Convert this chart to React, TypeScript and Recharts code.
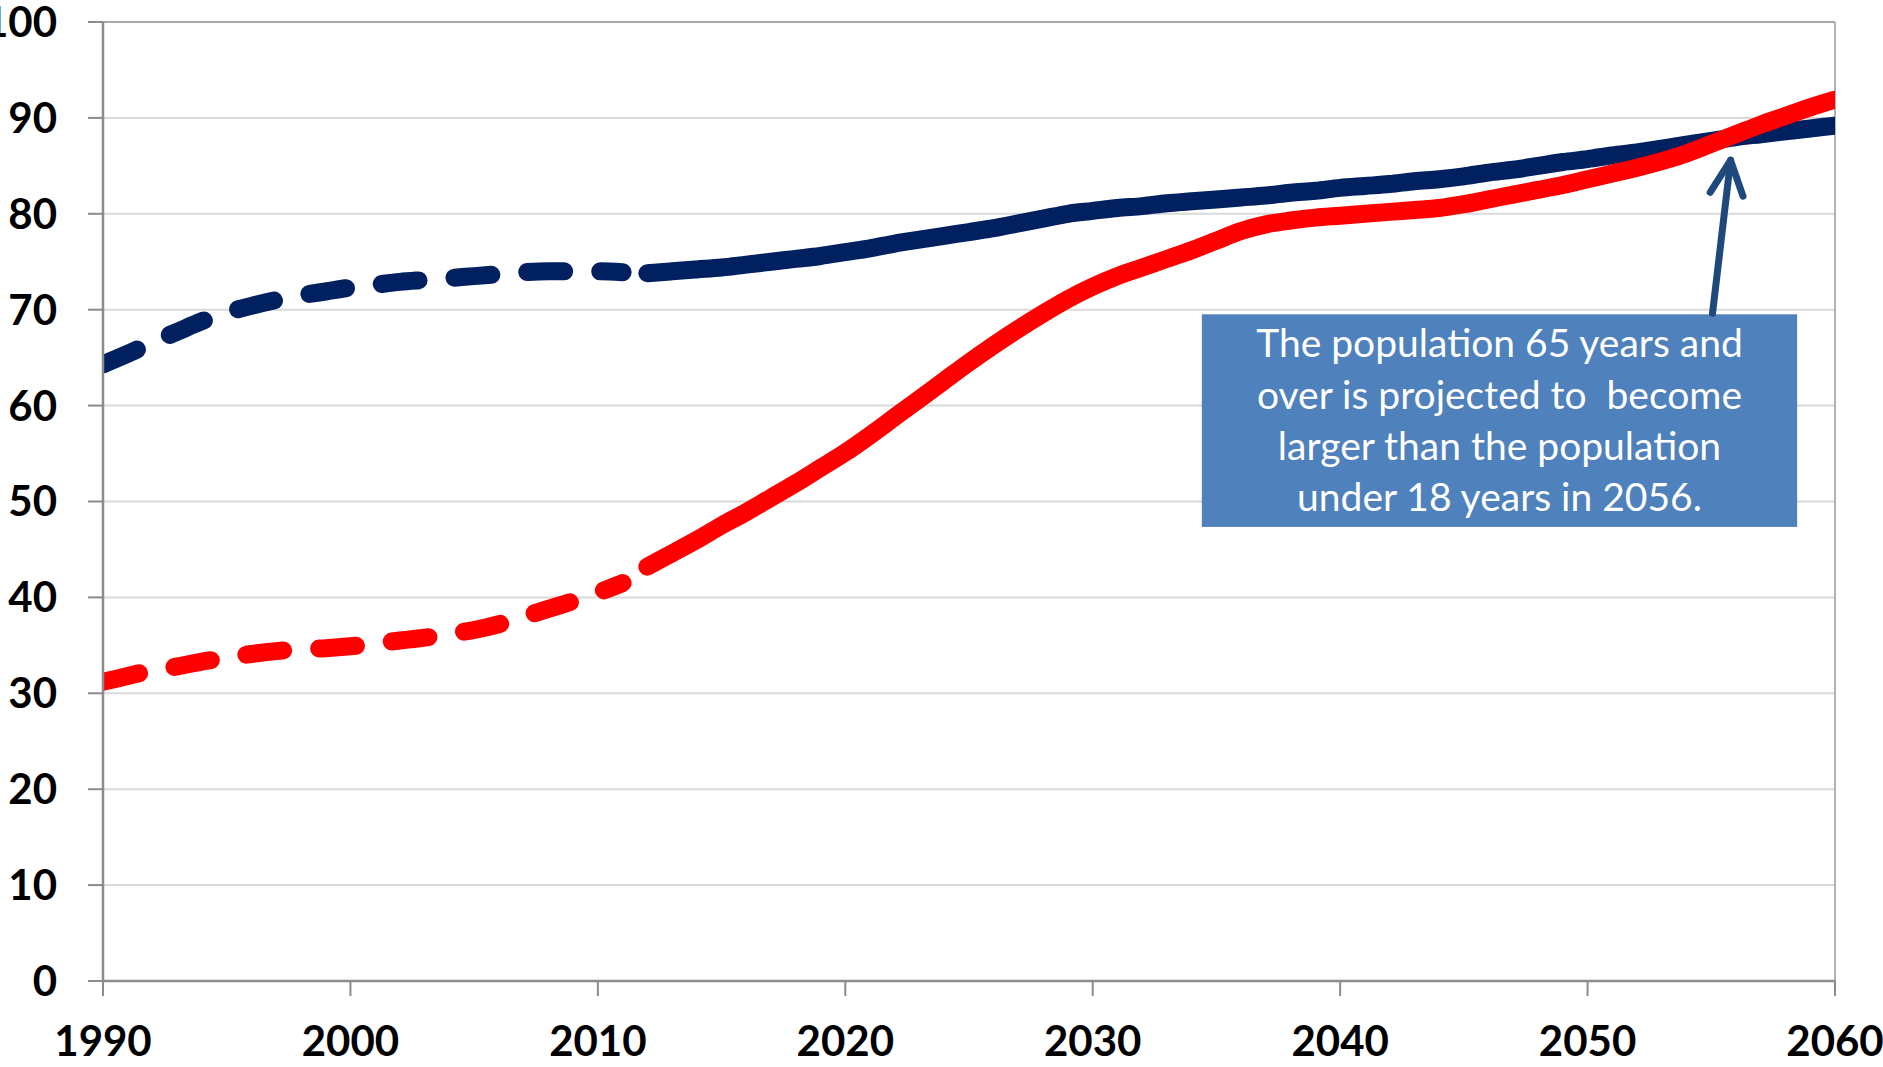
import { LineChart, Line, XAxis, YAxis, CartesianGrid, ReferenceLine, ReferenceArea } from 'recharts';

// population in millions, estimates (1990-2011) and projections (2012-2060)
const histYears = Array.from({ length: 22 }, (_, i) => 1990 + i);
const projYears = Array.from({ length: 49 }, (_, i) => 2012 + i);

const under18Hist = [
  64.3, 65.4, 66.6, 67.7, 68.8, 69.7, 70.4, 71.0, 71.5, 71.9, 72.3,
  72.6, 72.9, 73.1, 73.3, 73.5, 73.7, 73.9, 74.0, 74.0, 74.0, 73.9,
];
const over65Hist = [
  31.2, 31.8, 32.4, 32.8, 33.3, 33.7, 34.1, 34.4, 34.6, 34.7, 34.9,
  35.2, 35.5, 35.8, 36.2, 36.6, 37.2, 38.0, 38.8, 39.6, 40.5, 41.5,
];
const under18Proj = [
  73.8, 74.0, 74.2, 74.4, 74.7, 75.0, 75.3, 75.6, 76.0, 76.4,
  76.9, 77.3, 77.7, 78.1, 78.5, 79.0, 79.5, 80.0, 80.3, 80.6,
  80.8, 81.1, 81.3, 81.5, 81.7, 81.9, 82.2, 82.4, 82.7, 82.9,
  83.1, 83.4, 83.6, 83.9, 84.3, 84.6, 85.0, 85.4, 85.7, 86.1,
  86.4, 86.8, 87.2, 87.6, 88.0, 88.3, 88.6, 88.9, 89.2,
];
const over65Proj = [
  43.2, 44.6, 46.0, 47.5, 48.9, 50.4, 51.9, 53.5, 55.1, 56.9,
  58.8, 60.7, 62.6, 64.5, 66.3, 68.0, 69.6, 71.1, 72.4, 73.5,
  74.4, 75.3, 76.2, 77.2, 78.2, 78.9, 79.3, 79.6, 79.8, 80.0,
  80.2, 80.4, 80.6, 81.0, 81.5, 82.0, 82.5, 83.0, 83.6, 84.2,
  84.8, 85.5, 86.3, 87.3, 88.3, 89.3, 90.2, 91.1, 91.9,
];

const xTicks = [1990, 2000, 2010, 2020, 2030, 2040, 2050, 2060];
const yTicks = [0, 10, 20, 30, 40, 50, 60, 70, 80, 90, 100];

const calloutLines = [
  'The population 65 years and',
  'over is projected to  become',
  'larger than the population',
  'under 18 years in 2056.',
];

const data: any[] = [];
histYears.forEach((year, i) => {
  data.push({ year, under18Hist: under18Hist[i], over65Hist: over65Hist[i] });
});
projYears.forEach((year, i) => {
  data.push({ year, under18Proj: under18Proj[i], over65Proj: over65Proj[i] });
});

const FONT = 'Lato, Carlito, Calibri, sans-serif';
const NAVY = '#002060';
const RED = '#FF0000';
const DASH = '37 36';

const Callout = (props: any) => {
  const { x, y, width, height } = props;
  const cx = x + width / 2;
  return (
    <g>
      <rect x={x} y={y} width={width} height={height} fill="#4F81BD" />
      <text textAnchor="middle" fill="#ffffff" fontSize={39} fontFamily={FONT} style={{ whiteSpace: 'pre' }}>
        {calloutLines.map((t, i) => (
          <tspan key={i} x={cx} y={y + 43 + i * 51.2}>
            {t}
          </tspan>
        ))}
      </text>
    </g>
  );
};

const Arrow = (props: any) => {
  const { x1, y1, x2, y2 } = props;
  const back = Math.atan2(y1 - y2, x1 - x2);
  const len = 38;
  const spread = 0.45;
  const ax = x2 + len * Math.cos(back + spread);
  const ay = y2 + len * Math.sin(back + spread);
  const bx = x2 + len * Math.cos(back - spread);
  const by = y2 + len * Math.sin(back - spread);
  return (
    <g stroke="#1F497D" strokeWidth={7} strokeLinecap="round" strokeLinejoin="round" fill="none">
      <line x1={x1} y1={y1} x2={x2} y2={y2} />
      <polyline points={`${ax},${ay} ${x2},${y2} ${bx},${by}`} />
    </g>
  );
};

const App = () => {
  const tickStyle = { fill: '#000', fontSize: 42, fontWeight: 700, fontFamily: FONT };
  return (
    <div style={{ position: 'absolute', left: 0, top: 0, width: 1883, height: 1067, background: '#fff' }}>
      <LineChart width={1883} height={1067} data={data} margin={{ top: 22, right: 48, left: 3, bottom: 6 }}>
        <CartesianGrid vertical={false} stroke="#d9d9d9" strokeWidth={2} />
        <XAxis
          dataKey="year"
          type="number"
          domain={[1990, 2060]}
          ticks={xTicks}
          interval={0}
          allowDataOverflow
          height={80}
          tickSize={15}
          tickMargin={30}
          tick={tickStyle}
          axisLine={{ stroke: '#8c8c8c', strokeWidth: 2.5 }}
          tickLine={{ stroke: '#8c8c8c', strokeWidth: 2 }}
        />
        <YAxis
          type="number"
          domain={[0, 100]}
          ticks={yTicks}
          interval={0}
          width={100}
          tickSize={15}
          tickMargin={31}
          tick={tickStyle}
          axisLine={{ stroke: '#8c8c8c', strokeWidth: 2.5 }}
          tickLine={{ stroke: '#8c8c8c', strokeWidth: 2 }}
        />
        <ReferenceLine y={100} stroke="#a6a6a6" strokeWidth={2} />
        <ReferenceLine x={2060} stroke="#b3b3b3" strokeWidth={2} />
        <ReferenceArea
          x1={2034.41}
          x2={2058.47}
          y1={47.35}
          y2={69.52}
          shape={Callout}
        />
        <Line
          type="monotone"
          dataKey="under18Hist"
          stroke={NAVY}
          strokeWidth={18}
          strokeLinecap="round"
          strokeDasharray={DASH}
          dot={false}
          activeDot={false}
          isAnimationActive={false}
        />
        <Line
          type="monotone"
          dataKey="over65Hist"
          stroke={RED}
          strokeWidth={18}
          strokeLinecap="round"
          strokeDasharray={DASH}
          dot={false}
          activeDot={false}
          isAnimationActive={false}
        />
        <Line
          type="monotone"
          dataKey="under18Proj"
          stroke={NAVY}
          strokeWidth={18}
          strokeLinecap="round"
          dot={false}
          activeDot={false}
          isAnimationActive={false}
        />
        <Line
          type="monotone"
          dataKey="over65Proj"
          stroke={RED}
          strokeWidth={18}
          strokeLinecap="round"
          dot={false}
          activeDot={false}
          isAnimationActive={false}
        />
        <ReferenceLine
          segment={[{ x: 2055.05, y: 69.63 }, { x: 2055.78, y: 85.58 }]}
          shape={Arrow}
        />
      </LineChart>
    </div>
  );
};

export default App;
